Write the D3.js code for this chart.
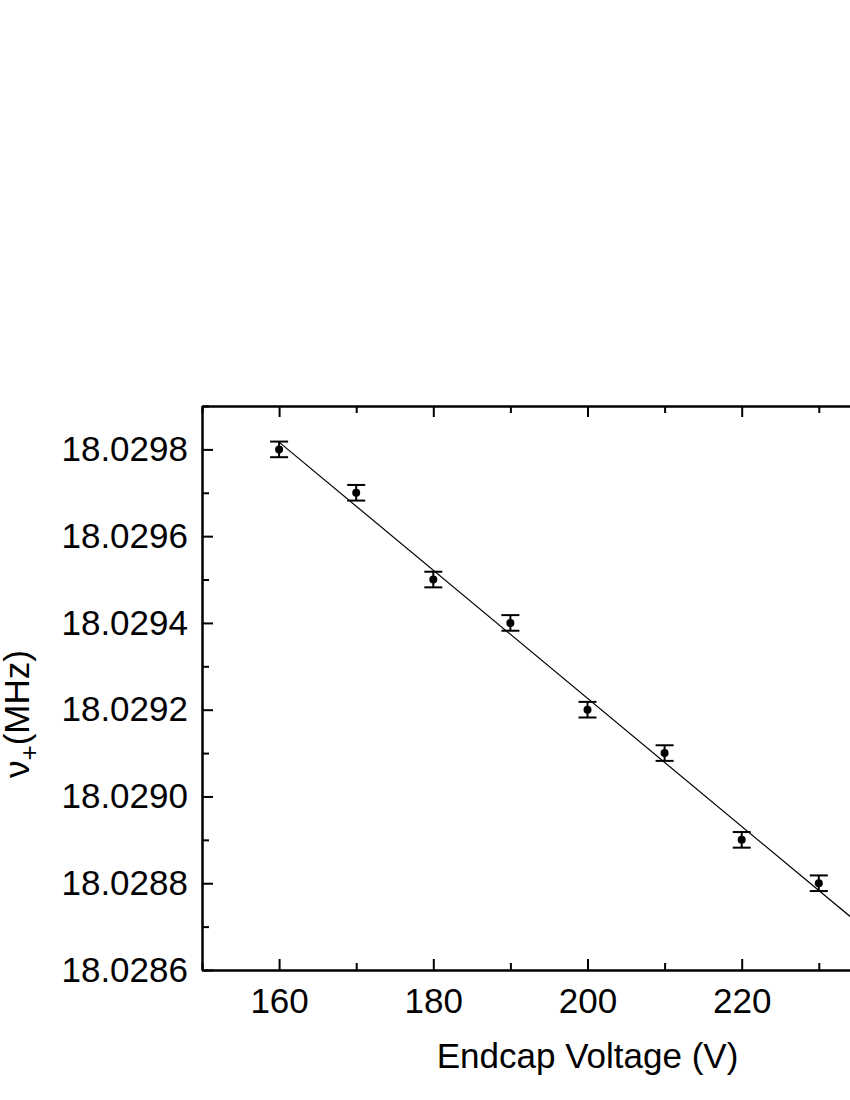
<!DOCTYPE html>
<html>
<head>
<meta charset="utf-8">
<script src="https://cdn.jsdelivr.net/npm/d3@7"></script>
<style>
  body { margin: 0; background: #fff; }
  svg { display: block; font-family: "Liberation Sans", Arial, sans-serif; }
</style>
</head>
<body>
<div id="chart"></div>
<script>
// data
const voltage = [160, 170, 180, 190, 200, 210, 220, 230];
const freq = [18.02980, 18.02970, 18.02950, 18.02940, 18.02920, 18.02910, 18.02890, 18.02880];
const freqErr = [0.000018, 0.000018, 0.000018, 0.000018, 0.000018, 0.000018, 0.000018, 0.000018];
const xTicks = [160, 180, 200, 220, 240];
const xMinor = [150, 170, 190, 210, 230, 250];
const yTicks = [18.0286, 18.0288, 18.0290, 18.0292, 18.0294, 18.0296, 18.0298];
const yMinor = [18.0287, 18.0289, 18.0291, 18.0293, 18.0295, 18.0297, 18.0299];
const fitRange = [160, 240];

const width = 850, height = 1100;
const margin = { left: 202, top: 406 };
const innerWidth = 771, innerHeight = 564;

const svg = d3.select("#chart").append("svg")
    .attr("width", width)
    .attr("height", height);

const chart = svg.append("g")
    .attr("transform", `translate(${margin.left}, ${margin.top})`);

const x = d3.scaleLinear().domain([150, 250]).range([0, innerWidth]);
const y = d3.scaleLinear().domain([18.0286, 18.0299]).range([innerHeight, 0]);

// =========================
// AXES (ticks point inward)
// =========================
function styleAxis(g) {
    g.select(".domain").attr("stroke", "#000").attr("stroke-width", 2);
    g.selectAll(".tick line").attr("stroke", "#000").attr("stroke-width", 2);
    g.selectAll(".tick text")
        .attr("fill", "#000")
        .style("font-size", "35px")
        .style("font-family", "'Liberation Sans', Arial, sans-serif");
}
// axes without labels: drop their empty text nodes
function noLabels(g) {
    styleAxis(g);
    g.selectAll(".tick text").remove();
}

// bottom
chart.append("g")
    .attr("transform", `translate(0, ${innerHeight})`)
    .call(d3.axisBottom(x).tickValues(xTicks.filter(v => x(v) < width - margin.left)).tickSizeInner(-11).tickSizeOuter(0).tickPadding(18).tickFormat(d3.format("d")))
    .call(styleAxis);
chart.append("g")
    .attr("transform", `translate(0, ${innerHeight})`)
    .call(d3.axisBottom(x).tickValues(xMinor).tickSizeInner(-7).tickSizeOuter(0))
    .call(noLabels);

// top
chart.append("g")
    .call(d3.axisTop(x).tickValues(xTicks).tickSizeInner(-11).tickSizeOuter(0))
    .call(noLabels);
chart.append("g")
    .call(d3.axisTop(x).tickValues(xMinor).tickSizeInner(-7).tickSizeOuter(0))
    .call(noLabels);

// left
chart.append("g")
    .call(d3.axisLeft(y).tickValues(yTicks).tickSizeInner(-11).tickSizeOuter(0).tickPadding(14).tickFormat(d3.format(".4f")))
    .call(styleAxis);
chart.append("g")
    .call(d3.axisLeft(y).tickValues(yMinor).tickSizeInner(-7).tickSizeOuter(0))
    .call(noLabels);

// right
chart.append("g")
    .attr("transform", `translate(${innerWidth}, 0)`)
    .call(d3.axisRight(y).tickValues(yTicks).tickSizeInner(-11).tickSizeOuter(0))
    .call(noLabels);
chart.append("g")
    .attr("transform", `translate(${innerWidth}, 0)`)
    .call(d3.axisRight(y).tickValues(yMinor).tickSizeInner(-7).tickSizeOuter(0))
    .call(noLabels);

// =========================
// LINEAR FIT
// =========================
const points = voltage.map((v, i) => ({ v, f: freq[i], e: freqErr[i] }));
const mx = d3.mean(points, d => d.v);
const my = d3.mean(points, d => d.f);
const slope = d3.sum(points, d => (d.v - mx) * (d.f - my)) / d3.sum(points, d => (d.v - mx) ** 2);
const intercept = my - slope * mx;

chart.append("path")
    .datum(fitRange)
    .attr("fill", "none")
    .attr("stroke", "#000")
    .attr("stroke-width", 1.2)
    .attr("d", d3.line().x(d => x(d)).y(d => y(intercept + slope * d)));

// =========================
// ERROR BARS + POINTS
// =========================
const eb = chart.selectAll("g.err")
    .data(points)
    .enter()
    .append("g")
    .attr("class", "err")
    .attr("stroke", "#000")
    .attr("stroke-width", 2);

eb.append("line")
    .attr("x1", d => x(d.v)).attr("x2", d => x(d.v))
    .attr("y1", d => y(d.f - d.e)).attr("y2", d => y(d.f + d.e));
eb.append("line")
    .attr("x1", d => x(d.v) - 9).attr("x2", d => x(d.v) + 9)
    .attr("y1", d => y(d.f + d.e)).attr("y2", d => y(d.f + d.e));
eb.append("line")
    .attr("x1", d => x(d.v) - 9).attr("x2", d => x(d.v) + 9)
    .attr("y1", d => y(d.f - d.e)).attr("y2", d => y(d.f - d.e));

chart.selectAll("circle.pt")
    .data(points)
    .enter()
    .append("circle")
    .attr("class", "pt")
    .attr("cx", d => x(d.v))
    .attr("cy", d => y(d.f))
    .attr("r", 4)
    .attr("fill", "#000");

// =========================
// LABELS
// =========================
svg.append("text")
    .attr("x", margin.left + x(200))
    .attr("y", 1068)
    .attr("text-anchor", "middle")
    .style("font-size", "35px")
    .text("Endcap Voltage (V)");

const yl = svg.append("text")
    .attr("transform", "translate(29, 714) rotate(-90)")
    .attr("text-anchor", "middle")
    .style("font-size", "35px");
yl.append("tspan").text("ν");
yl.append("tspan").attr("dy", 9).style("font-size", "26px").text("+");
yl.append("tspan").attr("dy", -9).text("(MHz)");
</script>
</body>
</html>
